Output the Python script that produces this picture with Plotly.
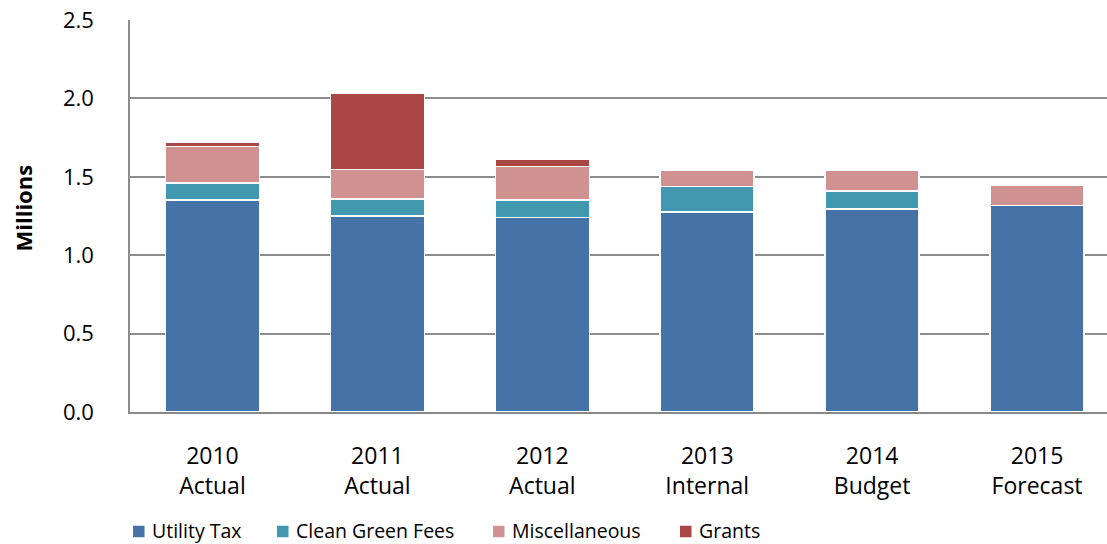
import plotly.graph_objects as go

categories = ["2010<br>Actual", "2011<br>Actual", "2012<br>Actual",
              "2013<br>Internal", "2014<br>Budget", "2015<br>Forecast"]

utility_tax = [1.352, 1.250, 1.242, 1.274, 1.295, 1.318]
clean_green_fees = [0.110, 0.108, 0.110, 0.163, 0.116, 0.0]
miscellaneous = [0.230, 0.190, 0.215, 0.104, 0.128, 0.130]
grants = [0.028, 0.485, 0.045, 0.0, 0.0, 0.0]

y_ticks = [0.0, 0.5, 1.0, 1.5, 2.0, 2.5]

series = [
    ("Utility Tax", utility_tax, "#4572A7"),
    ("Clean Green Fees", clean_green_fees, "#4198AF"),
    ("Miscellaneous", miscellaneous, "#D09290"),
    ("Grants", grants, "#AA4643"),
]

# left edge (px) of each legend swatch along the bottom row
legend_x_px = [133, 277, 493, 680]

FONT = "Open Sans, Lato, sans-serif"
W, H = 1107, 544
ML, MR, MT, MB = 130, 0, 20, 132

fig = go.Figure()
for name, vals, color in series:
    fig.add_trace(go.Bar(
        name=name,
        x=list(range(len(categories))),
        y=vals,
        width=0.57,
        marker=dict(color=color, line=dict(color="white", width=1.5)),
        showlegend=False,
    ))

pw, ph = W - ML - MR, H - MT - MB


def px_x(x):
    return (x - ML) / pw


def px_y(y):
    return (H - MB - y) / ph


# legend row drawn in paper coordinates
legend_y_px = 531.5
sw = 11.5
for (name, _, color), lx in zip(series, legend_x_px):
    fig.add_shape(type="rect", xref="paper", yref="paper",
                  x0=px_x(lx), x1=px_x(lx + sw),
                  y0=px_y(legend_y_px + sw / 2), y1=px_y(legend_y_px - sw / 2),
                  fillcolor=color, line=dict(width=0))
    fig.add_annotation(xref="paper", yref="paper",
                       x=px_x(lx + sw + 6), y=px_y(legend_y_px - 1),
                       xanchor="left", yanchor="middle",
                       text=name, showarrow=False, borderpad=0,
                       font=dict(size=19.5, family=FONT, color="#000000"))

# rotated axis title
fig.add_annotation(xref="paper", yref="paper",
                   x=px_x(22.5), y=px_y(208),
                   xanchor="center", yanchor="middle",
                   text="<b>Millions</b>", textangle=-90, showarrow=False,
                   font=dict(size=22, family=FONT, color="#000000"))

fig.update_layout(
    barmode="stack",
    width=W,
    height=H,
    margin=dict(l=ML, r=MR, t=MT, b=MB, autoexpand=False),
    paper_bgcolor="white",
    plot_bgcolor="white",
    font=dict(family=FONT, size=20, color="#000000"),
    showlegend=False,
)

fig.update_xaxes(
    tickmode="array",
    tickvals=list(range(len(categories))),
    ticktext=categories,
    range=[-0.5, 5.424],
    showgrid=False,
    showline=True,
    linecolor="#888888",
    linewidth=1.5,
    ticks="",
    ticklabelstandoff=23,
    tickfont=dict(size=23, family=FONT),
    zeroline=False,
    automargin=False,
)

fig.update_yaxes(
    range=[0, 2.5],
    tickmode="array",
    tickvals=y_ticks,
    ticktext=[f"{v:.1f}" for v in y_ticks],
    showgrid=True,
    gridcolor="#8c8c8c",
    gridwidth=1.5,
    showline=True,
    linecolor="#8c8c8c",
    linewidth=1.5,
    ticks="",
    ticklabelstandoff=30,
    tickfont=dict(size=22, family=FONT),
    zeroline=False,
    automargin=False,
)

fig.write_html("out.html")
